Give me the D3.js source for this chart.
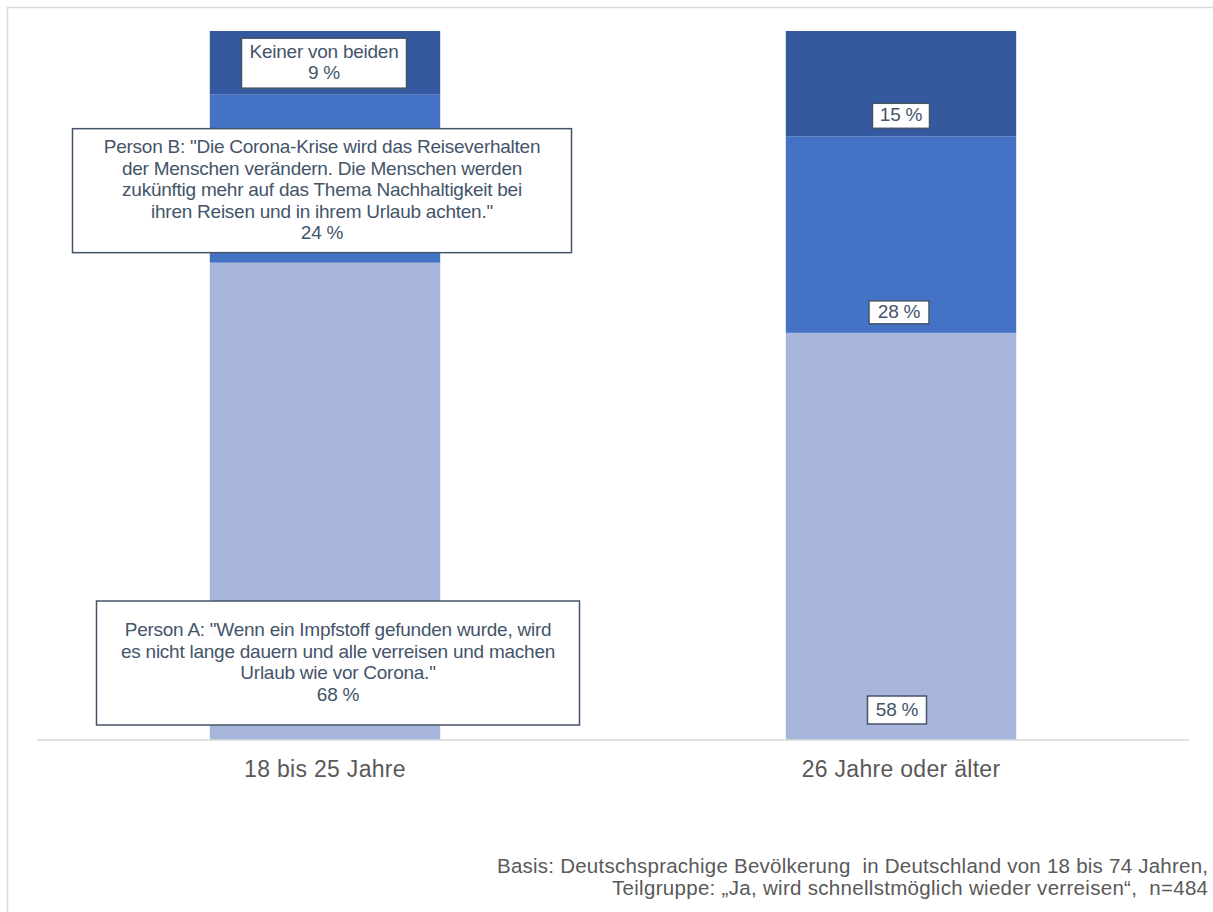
<!DOCTYPE html>
<html>
<head>
<meta charset="utf-8">
<script src="https://cdn.jsdelivr.net/npm/d3@7/dist/d3.min.js"></script>
<style>
  html, body { margin: 0; padding: 0; background: #fff; }
  svg { display: block; font-family: "Liberation Sans", Arial, sans-serif; }
</style>
</head>
<body>
<svg id="chart" width="1213" height="912"></svg>
<script>
// ---- data ----
const categories = ["18 bis 25 Jahre", "26 Jahre oder älter"];
const seriesKeys = ["personA", "personB", "keiner"];
const personA = [68, 58];
const personB = [24, 28];
const keiner = [9, 15];
const seriesColors = ["#A9B6DB", "#4472C4", "#35599F"];
const seriesLabelText = {
  personA: ["Person A: \"Wenn ein Impfstoff gefunden wurde, wird",
            "es nicht lange dauern und alle verreisen und machen",
            "Urlaub wie vor Corona.\""],
  personB: ["Person B: \"Die Corona-Krise wird das Reiseverhalten",
            "der Menschen verändern. Die Menschen werden",
            "zukünftig mehr auf das Thema Nachhaltigkeit bei",
            "ihren Reisen und in ihrem Urlaub achten.\""],
  keiner: ["Keiner von beiden"]
};
const footerLines = [
  "Basis: Deutschsprachige Bevölkerung  in Deutschland von 18 bis 74 Jahren,",
  "Teilgruppe: \u201EJa, wird schnellstmöglich wieder verreisen\u201C,  n=484"
];

// ---- label box layout (per category index, per series) ----
const boxLayout = {
  0: { personA: {w: 483, h: 124, gap: 15, dx: 13},
       personB: {w: 499, h: 124, gap: 10, dx: -3},
       keiner:  {w: 165, h: 50,  gap: 6,  dx: -1} },
  1: { personA: {w: 59, h: 28, gap: 16, dx: -4},
       personB: {w: 60, h: 23, gap: 9,  dx: -2},
       keiner:  {w: 57, h: 25, gap: 8,  dx: 0} }
};
const footerWidths = [711, 596];

const rows = categories.map((c, i) => ({
  category: c, personA: personA[i], personB: personB[i], keiner: keiner[i], idx: i
}));

const svg = d3.select("#chart");
const W = 1213, H = 912;

// outer chart border
svg.append("rect").attr("x", 7.5).attr("y", 7.5).attr("width", W).attr("height", H)
  .attr("fill", "none").attr("stroke", "#D9D9D9").attr("stroke-width", 1.5);

const plot = {left: 37, right: 1189, top: 31, bottom: 740};

const x = d3.scaleBand().domain(categories).range([plot.left, plot.right])
  .paddingInner(0.6).paddingOuter(0.3);
const stack = d3.stack().keys(seriesKeys);
const stacked = stack(rows);
const maxSum = d3.max(rows, r => seriesKeys.reduce((s, k) => s + r[k], 0));
const y = d3.scaleLinear().domain([0, maxSum]).range([plot.bottom, plot.top]);

// bars
const g = svg.append("g");
stacked.forEach((layer, li) => {
  g.selectAll(null).data(layer).enter().append("rect")
    .attr("x", d => x(d.data.category))
    .attr("width", x.bandwidth())
    .attr("y", d => y(d[1]))
    .attr("height", d => y(d[0]) - y(d[1]))
    .attr("fill", seriesColors[li]);
});

// axis line
const xAxis = d3.axisBottom(x).tickSize(0).tickPadding(21);
const axG = svg.append("g").attr("transform", `translate(0,${plot.bottom})`).call(xAxis);
axG.select(".domain").attr("stroke", "#D9D9D9").attr("stroke-width", 1.5)
  .attr("d", `M${plot.left},0H${plot.right}`);
axG.selectAll(".tick text").attr("font-size", 23).attr("fill", "#595959")
  .attr("letter-spacing", 0.3)
  .attr("font-family", "Liberation Sans, Arial, sans-serif");

// data labels
const lineH = 21.5;
const labelG = svg.append("g");
stacked.forEach((layer, li) => {
  const key = seriesKeys[li];
  layer.forEach(d => {
    const ci = d.data.idx;
    const lay = boxLayout[ci][key];
    const cx = x(d.data.category) + x.bandwidth() / 2 + lay.dx;
    const bottom = y(d[0]) - lay.gap;
    const top = bottom - lay.h;
    const lines = (ci === 0 ? seriesLabelText[key] : []).concat([`${d.data[key]} %`]);
    labelG.append("rect")
      .attr("x", cx - lay.w / 2).attr("y", top)
      .attr("width", lay.w).attr("height", lay.h)
      .attr("fill", "#fff").attr("stroke", "#44546A").attr("stroke-width", 1.5);
    const midY = top + lay.h / 2;
    const firstBase = midY - (lines.length - 1) * lineH / 2 + 5.5;
    const t = labelG.append("text").attr("text-anchor", "middle")
      .attr("font-size", 19).attr("fill", "#44546A").attr("letter-spacing", -0.25);
    lines.forEach((ln, k) => {
      t.append("tspan").attr("x", cx).attr("y", firstBase + k * lineH).text(ln);
    });
  });
});

// footer
footerLines.forEach((ln, k) => {
  svg.append("text").attr("text-anchor", "end").attr("font-size", 20.5)
    .attr("fill", "#595959").attr("xml:space", "preserve")
    .style("white-space", "pre")
    .attr("x", 1208).attr("y", 873 + k * 22)
    .attr("textLength", footerWidths[k]).attr("lengthAdjust", "spacing")
    .text(ln);
});
</script>
</body>
</html>
